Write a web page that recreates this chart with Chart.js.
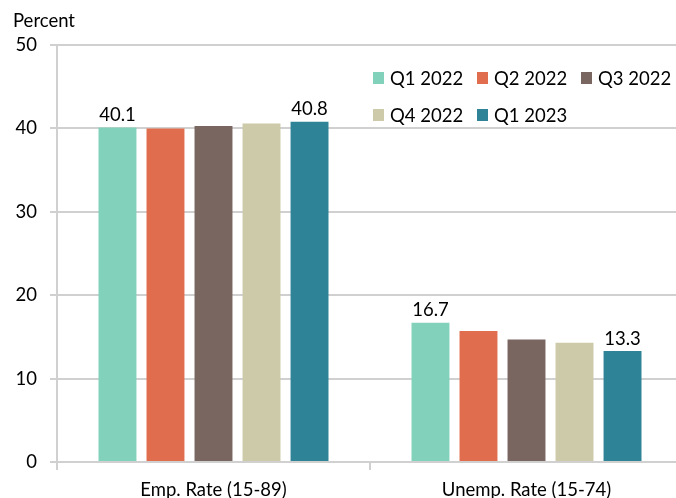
<!DOCTYPE html>
<html>
<head>
<meta charset="utf-8">
<script src="https://cdn.jsdelivr.net/npm/chart.js@4"></script>
<style>
  html, body { margin: 0; padding: 0; background: #fff; overflow: hidden; }
  canvas { display: block; }
</style>
</head>
<body>
<canvas id="rateChart" width="690" height="498"></canvas>
<script>
const categories = ["Emp. Rate (15-89)", "Unemp. Rate (15-74)"];
const seriesNames = ["Q1 2022", "Q2 2022", "Q3 2022", "Q4 2022", "Q1 2023"];
const q1_2022 = [40.1, 16.7];
const q2_2022 = [40.0, 15.7];
const q3_2022 = [40.3, 14.7];
const q4_2022 = [40.6, 14.3];
const q1_2023 = [40.8, 13.3];
const yMin = 0;
const yMax = 50;
const yStep = 10;
// only first and last quarter get a value label
const labelledSeries = [0, 4];

const seriesValues = [q1_2022, q2_2022, q3_2022, q4_2022, q1_2023];
const seriesColors = ["#82d2bb", "#e06e4e", "#7a6661", "#cccaa8", "#2e8396"];

const FONT = "Lato, 'Noto Sans', sans-serif";
const TEXT = "#000";
const GRID = "#d0d0d0";

// value labels + legend + axis caption
const extrasPlugin = {
  id: "extras",
  afterDatasetsDraw(chart) {
    const ctx = chart.ctx;
    ctx.save();
    ctx.font = "18.5px " + FONT;
    ctx.fillStyle = TEXT;
    ctx.textAlign = "center";
    ctx.textBaseline = "bottom";
    labelledSeries.forEach((di) => {
      const meta = chart.getDatasetMeta(di);
      meta.data.forEach((bar, i) => {
        ctx.fillText(chart.data.datasets[di].data[i].toFixed(1), bar.x, bar.y - 3);
      });
    });

    // legend, 3 per row
    ctx.textAlign = "left";
    ctx.textBaseline = "middle";
    chart.data.datasets.forEach((ds, i) => {
      const x = 373 + (i % 3) * 104;
      const y = 78 + Math.floor(i / 3) * 37;
      ctx.fillStyle = ds.backgroundColor;
      ctx.fillRect(x, y - 6, 11, 12);
      ctx.fillStyle = TEXT;
      ctx.fillText(ds.label, x + 17, y + 1);
    });

    ctx.fillText("Percent", 13, 21);
    ctx.restore();
  },
};

new Chart(document.getElementById("rateChart"), {
  type: "bar",
  data: {
    labels: categories,
    datasets: seriesNames.map((name, i) => ({
      label: name,
      data: seriesValues[i],
      backgroundColor: seriesColors[i],
      borderWidth: 0,
      categoryPercentage: 0.767,
      barPercentage: 0.79,
    })),
  },
  options: {
    responsive: false,
    animation: false,
    layout: {
      padding: { top: 45, right: 7, bottom: 0, left: 0 },
    },
    plugins: {
      legend: { display: false },
      tooltip: { enabled: false },
    },
    scales: {
      x: {
        grid: {
          display: true,
          drawOnChartArea: false,
          drawTicks: true,
          tickLength: 8,
          color: GRID,
          lineWidth: 2,
        },
        border: { color: GRID, width: 2 },
        ticks: {
          color: TEXT,
          font: { family: FONT, size: 18.5 },
          padding: 9,
          maxRotation: 0,
        },
        afterFit: (scale) => {
          scale.height = 36;
        },
      },
      y: {
        min: yMin,
        max: yMax,
        ticks: {
          stepSize: yStep,
          color: TEXT,
          font: { family: FONT, size: 18.5 },
          padding: 13,
        },
        grid: {
          color: GRID,
          lineWidth: 2,
          tickLength: 7,
        },
        border: { color: GRID, width: 2 },
        afterFit: (scale) => {
          scale.width = 57;
        },
      },
    },
  },
  plugins: [extrasPlugin],
});
</script>
</body>
</html>
